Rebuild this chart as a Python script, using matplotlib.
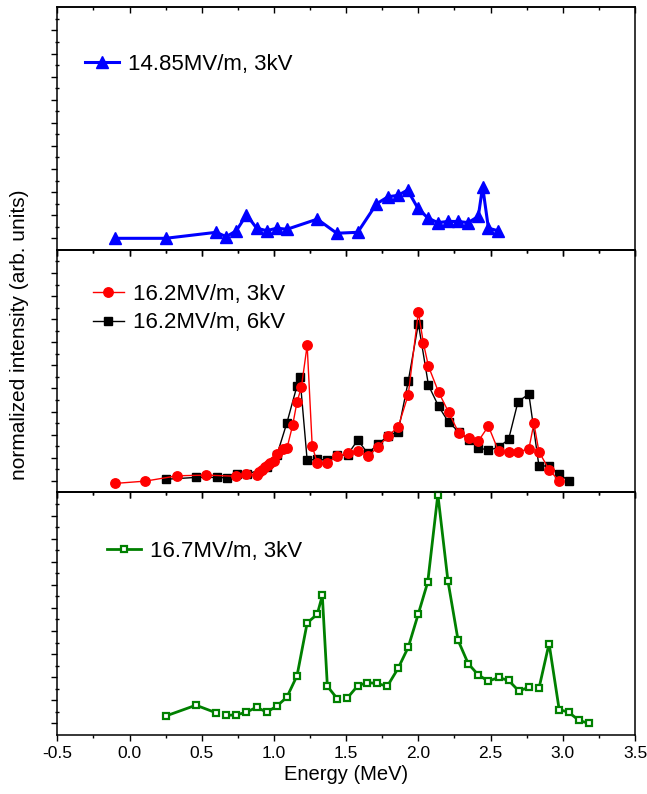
import numpy as np
import matplotlib
matplotlib.use("Agg")
import matplotlib.pyplot as plt

plt.rcParams['font.family'] = ['Liberation Sans', 'DejaVu Sans']

# ---- data ----
# top panel: 14.85 MV/m, 3 kV
blue_e = [-0.10, 0.25, 0.60, 0.67, 0.74, 0.81, 0.88, 0.95, 1.02, 1.09, 1.30, 1.435,
          1.58, 1.71, 1.79, 1.86, 1.925, 1.995, 2.065, 2.135, 2.205, 2.275, 2.345,
          2.415, 2.445, 2.485, 2.55]
blue_i = [0.00, 0.00, 0.26, 0.07, 0.33, 1.02, 0.44, 0.33, 0.44, 0.39, 0.83, 0.22,
          0.26, 1.49, 1.80, 1.86, 2.09, 1.32, 0.88, 0.68, 0.73, 0.73, 0.68,
          0.95, 2.24, 0.44, 0.33]

# middle panel: 16.2 MV/m, 3 kV (red) and 6 kV (black)
red_e = [-0.10, 0.11, 0.33, 0.53, 0.74, 0.81, 0.88, 0.90, 0.92, 0.94, 0.96, 0.975,
         1.00, 1.02, 1.06, 1.09, 1.13, 1.16, 1.19, 1.23, 1.265, 1.30, 1.37, 1.44,
         1.51, 1.58, 1.65, 1.72, 1.79, 1.86, 1.93, 2.00, 2.035, 2.07, 2.14, 2.21,
         2.28, 2.35, 2.415, 2.485, 2.555, 2.625, 2.69, 2.765, 2.80, 2.835, 2.905, 2.975]
red_i = [-0.11, -0.01, 0.22, 0.25, 0.20, 0.28, 0.25, 0.39, 0.49, 0.58, 0.68, 0.77,
         0.84, 1.15, 1.38, 1.41, 2.42, 3.43, 4.05, 5.87, 1.51, 0.77, 0.79, 1.08,
         1.20, 1.29, 1.08, 1.45, 1.95, 2.33, 3.73, 7.31, 5.96, 4.96, 3.84, 2.97,
         2.07, 1.85, 1.72, 2.37, 1.29, 1.23, 1.26, 1.38, 2.49, 1.26, 0.49, -0.01]

black_e = [0.25, 0.46, 0.605, 0.675, 0.745, 0.815, 0.95, 1.02, 1.09, 1.16, 1.18, 1.23,
           1.30, 1.37, 1.44, 1.51, 1.58, 1.65, 1.72, 1.79, 1.86, 1.93, 2.00, 2.07,
           2.14, 2.21, 2.28, 2.35, 2.415, 2.485, 2.555, 2.625, 2.69, 2.765, 2.835,
           2.905, 2.975, 3.045]
black_i = [0.07, 0.15, 0.15, 0.13, 0.28, 0.29, 0.58, 1.11, 2.52, 4.12, 4.49, 0.90,
           0.93, 0.90, 1.10, 1.13, 1.77, 1.19, 1.59, 1.95, 2.13, 4.31, 6.81, 4.14,
           3.23, 2.53, 2.13, 1.78, 1.43, 1.33, 1.45, 1.80, 3.43, 3.76, 0.64,
           0.65, 0.29, -0.01]

# bottom panel: 16.7 MV/m, 3 kV (line is broken where data rows are missing)
green_e = [0.25, 0.46, 0.60, 0.67, 0.74, 0.81, 0.88, 0.95, 1.02, 1.09, 1.16, 1.23,
           1.30, 1.335, 1.37, 1.44, 1.505, 1.58, 1.645, 1.715, 1.785, 1.86, 1.93,
           2.00, 2.065, 2.135, 2.205, 2.275, 2.345, 2.415, 2.485, 2.555, 2.625,
           2.695, 2.765, 2.835, 2.905, 2.975, 3.04, 3.11, 3.18]
green_i = [0.32, 0.79, 0.46, 0.35, 0.37, 0.49, 0.70, 0.49, 0.75, 1.14, 2.07, 4.35,
           4.73, 5.54, 1.61, 1.06, 1.08, 1.63, 1.77, 1.73, 1.61, 2.39, 3.30,
           4.75, 6.12, 9.91, 6.16, 3.60, 2.59, 2.10, 1.83, 1.99, 1.86,
           1.41, 1.56, 1.52, 3.46, 0.60, 0.49, 0.14, 0.00]
green_breaks = [3, 16, 35]   # indices where a new line segment starts

x_ticks = [-0.5, 0.0, 0.5, 1.0, 1.5, 2.0, 2.5, 3.0, 3.5]
x_labels = ['-0.5', '0.0', '0.5', '1.0', '1.5', '2.0', '2.5', '3.0', '3.5']

# ---- figure ----
W, H = 647, 794
fig = plt.figure(figsize=(W / 100, H / 100), dpi=100)
left, right = 57.3 / W, 635.0 / W
top_px, bot_px = 7.3, 735.0
ph = (bot_px - top_px) / 3.0
axes = []
for k in range(3):
    y0 = 1 - (top_px + (k + 1) * ph) / H
    ax = fig.add_axes([left, y0, right - left, ph / H])
    ax.patch.set_alpha(0)
    axes.append(ax)
ax1, ax2, ax3 = axes

minor_x = np.arange(-0.25, 3.5, 0.5)
for ax in axes:
    ax.set_xlim(-0.5, 3.5)
    ax.set_ylim(-0.5, 10)
    ax.set_xticks(x_ticks)
    ax.set_xticks(minor_x, minor=True)
    ax.set_yticks(np.arange(0, 10, 1))
    ax.set_yticks(np.arange(0.5, 10, 1), minor=True)
    ax.set_yticklabels([])
    ax.tick_params(which='major', direction='out', length=4.5, width=1.0)
    ax.tick_params(which='minor', direction='out', length=2.5, width=1.0)
    ax.tick_params(axis='y', which='minor', direction='inout', length=3)
    for s in ax.spines.values():
        s.set_linewidth(1.1)
    sec = ax.secondary_xaxis('top')
    sec.set_xticks(x_ticks)
    sec.set_xticks(minor_x, minor=True)
    sec.tick_params(which='major', direction='in', length=4.5, width=1.0,
                    labeltop=False)
    sec.tick_params(which='minor', direction='in', length=2.5, width=1.0)
    sec.spines['top'].set_linewidth(1.1)

ax1.set_xticklabels([])
ax2.set_xticklabels([])
ax3.set_xticklabels(x_labels, fontsize=12.5)
ax3.set_xlabel('Energy (MeV)', fontsize=14.5, labelpad=3)
fig.text(0.030, 1 - 335 / H, 'normalized intensity (arb. units)',
         rotation=90, va='center', ha='center', fontsize=15)

# top
ax1.plot(blue_e, blue_i, '-^', color='#0000ff', lw=2.2, ms=8.5,
         label='14.85MV/m, 3kV', clip_on=False)
# middle
l_blk, = ax2.plot(black_e, black_i, '-s', color='black', lw=1.0, ms=5.8,
                  label='16.2MV/m, 6kV', clip_on=False)
l_red, = ax2.plot(red_e, red_i, '-o', color='#ff0000', lw=1.0, ms=6.8,
                  label='16.2MV/m, 3kV', clip_on=False)
# bottom
idx = [0] + green_breaks + [len(green_e)]
g_handle = None
for a, b in zip(idx[:-1], idx[1:]):
    h, = ax3.plot(green_e[a:b], green_i[a:b], '-s', color='#008000', lw=2.0, ms=5.0,
                  mfc='white', mec='#008000', mew=1.6, clip_on=False)
    if g_handle is None:
        g_handle = h
g_handle.set_label('16.7MV/m, 3kV')

leg_kw = dict(frameon=False, loc='center left', fontsize=16, borderpad=0,
              borderaxespad=0, handletextpad=0.4)
ax1.legend(bbox_to_anchor=(0.048, 0.766), handlelength=1.55, **leg_kw)
ax2.legend([l_red, l_blk], ['16.2MV/m, 3kV', '16.2MV/m, 6kV'],
           bbox_to_anchor=(0.061, 0.757), labelspacing=0.33, handlelength=1.4,
           **leg_kw)
ax3.legend([g_handle], ['16.7MV/m, 3kV'], bbox_to_anchor=(0.086, 0.757),
           handlelength=1.55, **leg_kw)

fig.savefig('out.png', dpi=100, facecolor='white')
